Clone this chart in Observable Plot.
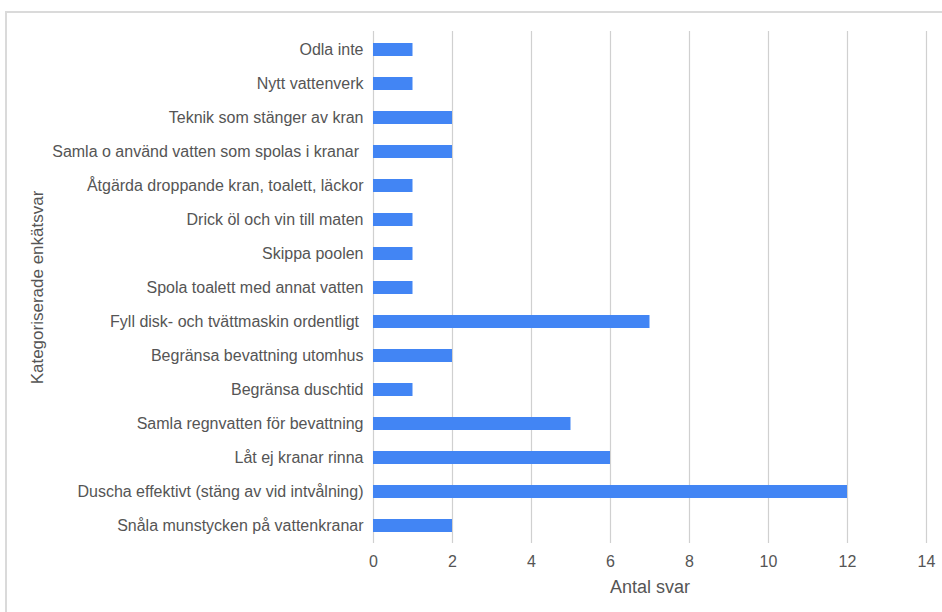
<!DOCTYPE html>
<html>
<head>
<meta charset="utf-8">
<script src="https://cdn.jsdelivr.net/npm/d3@7"></script>
<script src="https://cdn.jsdelivr.net/npm/@observablehq/plot@0.6"></script>
<style>
  html, body { margin: 0; padding: 0; background: #fff; }
  #wrap { position: relative; width: 942px; height: 612px; overflow: hidden; }
  #border { position: absolute; left: 5px; top: 11px; width: 960px; height: 620px;
            border-left: 2px solid #dadada; border-top: 2px solid #dadada; box-sizing: border-box; }
  #chart { position: absolute; left: 0; top: 0; }
  svg text { white-space: pre; }
</style>
</head>
<body>
<div id="wrap"><div id="border"></div><div id="chart"></div></div>
<script>
const categories = [
  "Odla inte",
  "Nytt vattenverk",
  "Teknik som stänger av kran",
  "Samla o använd vatten som spolas i kranar ",
  "Åtgärda droppande kran, toalett, läckor",
  "Drick öl och vin till maten",
  "Skippa poolen",
  "Spola toalett med annat vatten",
  "Fyll disk- och tvättmaskin ordentligt ",
  "Begränsa bevattning utomhus",
  "Begränsa duschtid",
  "Samla regnvatten för bevattning",
  "Låt ej kranar rinna",
  "Duscha effektivt (stäng av vid intvålning)",
  "Snåla munstycken på vattenkranar"
];
const values = [1, 1, 2, 2, 1, 1, 1, 1, 7, 2, 1, 5, 6, 12, 2];
const xTicks = [0, 2, 4, 6, 8, 10, 12, 14];
const xTitle = "Antal svar";
const yTitle = "Kategoriserade enkätsvar";

const data = categories.map((c, i) => ({category: c, value: values[i]}));
const textColor = "#555";
const font = "Liberation Sans, Arial, sans-serif";

const chart = Plot.plot({
  width: 942,
  height: 612,
  marginLeft: 373,
  marginRight: 16,
  marginTop: 31,
  marginBottom: 69,
  style: {fontFamily: font, fontSize: "16px", color: textColor, background: "transparent"},
  x: {domain: [0, 14]},
  y: {domain: categories, paddingInner: 0.63, paddingOuter: 0.315},
  marks: [
    Plot.gridX(xTicks, {stroke: "#d0d0d0", strokeOpacity: 1, strokeWidth: 1.2}),
    Plot.barX(data, {x: "value", y: "category", fill: "#4285F4"}),
    Plot.axisX({ticks: xTicks, tickSize: 0, tickPadding: 12, label: null, fontSize: 16, fill: textColor}),
    Plot.axisY({tickSize: 0, tickPadding: 10, label: null, fontSize: 16, fill: textColor}),
    Plot.text([xTitle], {frameAnchor: "bottom", dy: 44, fontSize: 18, fill: textColor, lineAnchor: "middle"}),
    Plot.text([yTitle], {frameAnchor: "left", dx: -336, rotate: -90, fontSize: 17, fill: textColor, textAnchor: "middle", lineAnchor: "middle"})
  ]
});
document.getElementById("chart").appendChild(chart);
</script>
</body>
</html>
